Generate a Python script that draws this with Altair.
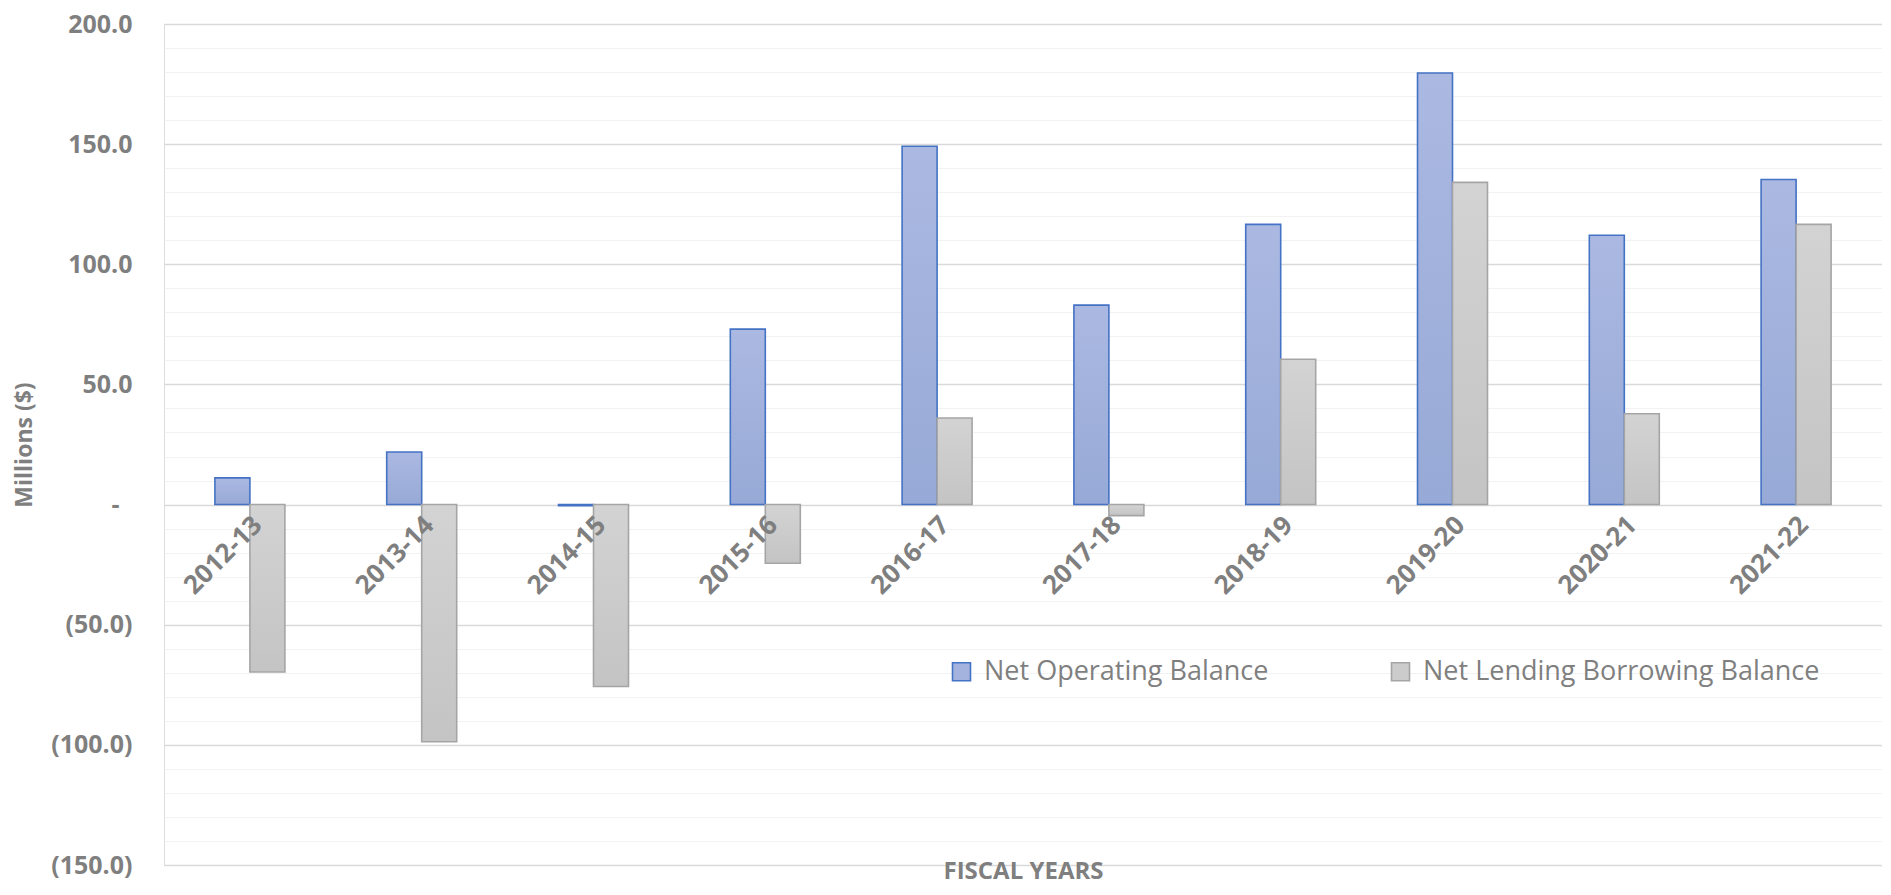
import altair as alt
import pandas as pd

years = ["2012-13", "2013-14", "2014-15", "2015-16", "2016-17",
         "2017-18", "2018-19", "2019-20", "2020-21", "2021-22"]
net_operating = [11.1, 21.9, -0.5, 73.0, 149.1, 83.0, 116.6, 179.6, 112.1, 135.3]
net_lending = [-69.7, -98.7, -75.7, -24.4, 36.0, -4.6, 60.5, 134.1, 37.8, 116.6]
series_names = ["Net Operating Balance", "Net Lending Borrowing Balance"]
y_ticks = list(range(-150, 201, 10))

rows = []
for i, y in enumerate(years):
    rows.append({"year": y, "series": series_names[0], "value": net_operating[i]})
    rows.append({"year": y, "series": series_names[1], "value": net_lending[i]})
df = pd.DataFrame(rows)

grey_txt = "#7f7f7f"
FONT = "Open Sans"

grad_blue = {"gradient": "linear", "x1": 0, "x2": 0, "y1": 0, "y2": 1,
             "stops": [{"offset": 0, "color": "#abb9e2"}, {"offset": 1, "color": "#97a9d6"}]}
grad_grey = {"gradient": "linear", "x1": 0, "x2": 0, "y1": 0, "y2": 1,
             "stops": [{"offset": 0, "color": "#d3d3d3"}, {"offset": 1, "color": "#c4c4c4"}]}

W, H = 1718, 841
ymin, ymax = -150, 200
zero_offset = -(H - (ymax - 0) / (ymax - ymin) * H)

label_expr = ("datum.value % 50 != 0 ? '' : datum.value == 0 ? '-' : "
              "datum.value < 0 ? '(' + format(-datum.value, '.1f') + ')' : format(datum.value, '.1f')")

legend = alt.Legend(
    title=None, orient="none", legendX=784, legendY=634, direction="horizontal",
    columns=2, columnPadding=118, symbolType="square", symbolSize=324,
    symbolStrokeWidth=1.6, labelFont=FONT, labelFontSize=27, labelColor=grey_txt,
    labelOffset=9, labelLimit=600, padding=0,
)

chart = alt.Chart(df).mark_bar(strokeWidth=1.6).encode(
    x=alt.X("year:N", sort=years,
            scale=alt.Scale(paddingInner=0.5926, paddingOuter=0.2963),
            axis=alt.Axis(orient="bottom", offset=zero_offset, labelAngle=-45,
                          labelAlign="right", labelBaseline="middle",
                          labelPadding=16, labelOffset=8, zindex=1,
                          ticks=False, domain=False, grid=False,
                          labelFont=FONT, labelFontSize=26, labelFontWeight="bold",
                          labelColor=grey_txt,
                          title="FISCAL YEARS", titleY=367, titleBaseline="middle",
                          titleFont=FONT, titleFontSize=24, titleFontWeight="bold",
                          titleColor=grey_txt)),
    xOffset=alt.XOffset("series:N", sort=series_names,
                        scale=alt.Scale(domain=series_names, paddingInner=0, paddingOuter=0)),
    y=alt.Y("value:Q",
            scale=alt.Scale(domain=[ymin, ymax], nice=False, zero=False),
            axis=alt.Axis(values=y_ticks, labelExpr=label_expr,
                          gridColor=alt.condition("datum.value % 50 == 0",
                                                  alt.value("#d9d9d9"), alt.value("#f2f2f2")),
                          gridWidth=alt.condition("datum.value % 50 == 0",
                                                  alt.value(1.5), alt.value(1)),
                          ticks=False, domain=False,
                          labelPadding=alt.condition("datum.value == 0",
                                                     alt.value(45), alt.value(32)),
                          labelFont=FONT, labelFontSize=25, labelFontWeight="bold",
                          labelColor=grey_txt,
                          title="Millions ($)", titleFont=FONT, titleFontSize=23,
                          titleFontWeight="bold", titleColor=grey_txt, titlePadding=14)),
    color=alt.Color("series:N", sort=series_names,
                    scale=alt.Scale(domain=series_names, range=["#a3b3de", "#cccccc"]),
                    legend=legend,
                    condition=[
                        {"test": "datum.series === 'Net Operating Balance'", "value": grad_blue},
                        {"test": "datum.series === 'Net Lending Borrowing Balance'", "value": grad_grey},
                    ]),
    stroke=alt.Stroke("series:N", sort=series_names,
                      scale=alt.Scale(domain=series_names, range=["#4472c4", "#a5a5a5"]),
                      legend=legend),
).properties(
    width=W, height=H,
    padding={"left": 5, "top": 4, "right": 0, "bottom": 0},
).configure_view(stroke=None).configure(background="white")

chart.save("out.html", embed_options={"renderer": "svg", "actions": False})
